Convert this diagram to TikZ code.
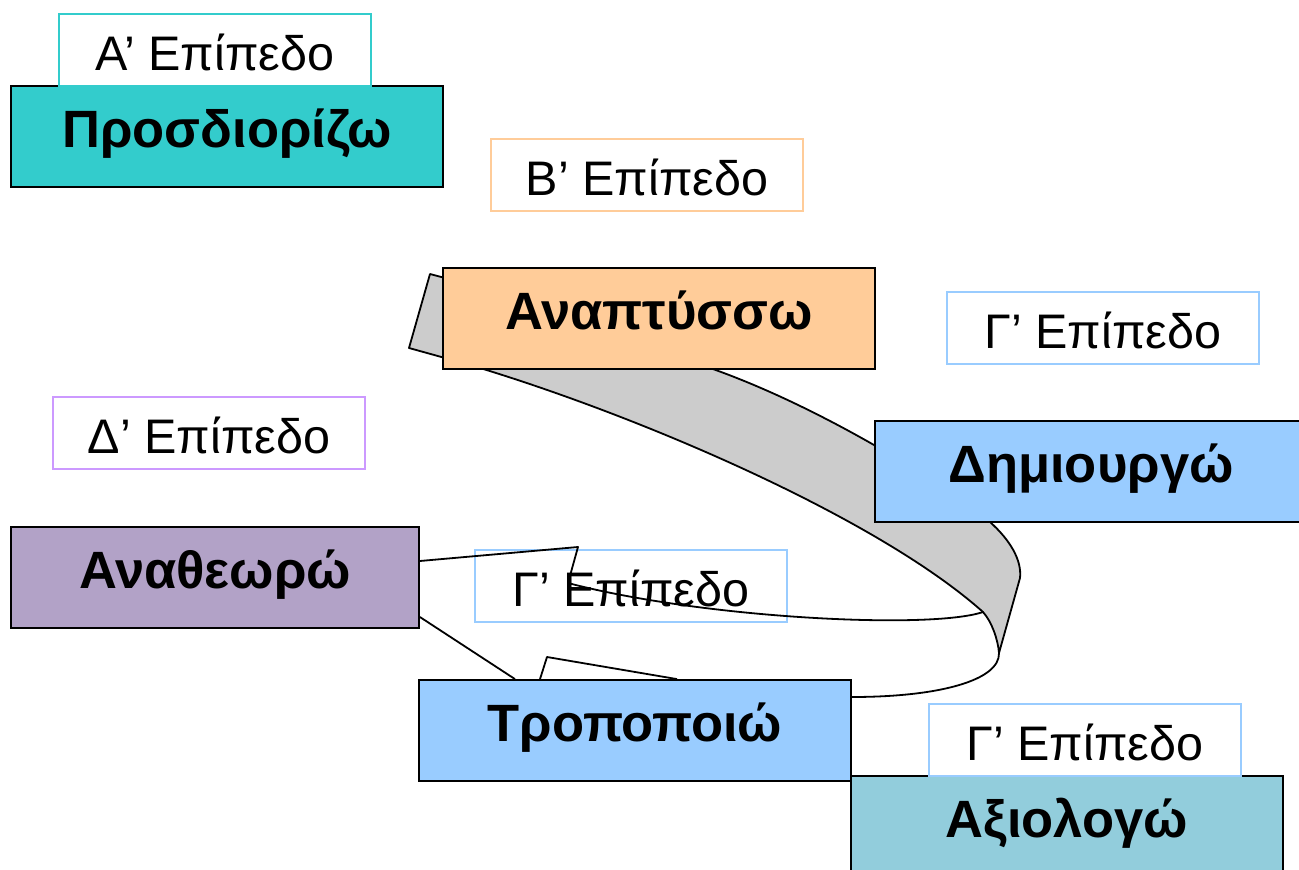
\documentclass[tikz,border=0pt]{standalone}
\usepackage{fontspec}
\setmainfont{Liberation Sans}
\definecolor{cTeal}{HTML}{33CCCC}
\definecolor{cPeach}{HTML}{FFCC99}
\definecolor{cSky}{HTML}{99CCFF}
\definecolor{cLilac}{HTML}{CC99FF}
\definecolor{cMauve}{HTML}{B2A2C7}
\definecolor{cAqua}{HTML}{92CDDC}
\definecolor{cRibbon}{HTML}{CCCCCC}
\tikzset{
  mainbox/.style={draw=black, line width=1.8pt, minimum width=432pt,
    inner sep=0pt, text height=61pt, text depth=40pt,
    font=\fontsize{52.5}{60}\selectfont\bfseries},
  levelbox/.style={draw=#1, fill=white, line width=1.6pt, minimum width=312pt,
    inner sep=0pt, text height=56pt, text depth=16pt,
    font=\fontsize{48.5}{56}\selectfont},
  ribbon/.style={draw=black, line width=1.8pt, line join=round},
}
\begin{document}
\begin{tikzpicture}[x=1pt,y=-1pt]
\useasboundingbox (0,0) rectangle (1299,870);

% grey ribbon running from the second step round to the third
\filldraw[ribbon, fill=cRibbon]
  (445,278) -- (430,274) -- (409,348) -- (445,358) -- (480,368)
  .. controls (650,420) and (880,520) .. (983,612)
  .. controls (992,622) and (998,640) .. (999,653)
  -- (1020,578)
  .. controls (1022,560) and (1010,540) .. (990,522)
  .. controls (960,495) and (830,410) .. (710,368) -- cycle;

% the steps
\node[mainbox, fill=cTeal]  (prosd) at (227,136.5)  {Προσδιορίζω};
\node[mainbox, fill=cPeach] (anapt) at (659,318.5)  {Αναπτύσσω};
\node[mainbox, fill=cSky]   (dimi)  at (1091,471.5) {Δημιουργώ};
\node[mainbox, fill=cMauve, minimum width=408pt] (anath) at (215,577.5) {Αναθεωρώ};
\node[mainbox, fill=cSky]   (tropo) at (635,730.5)  {Τροποποιώ};
\node[mainbox, fill=cAqua]  (axiol) at (1067,826.5) {Αξιολογώ};

% the level tags
\node[levelbox=cTeal]  (lvlA)  at (215,50)   {Α’ Επίπεδο};
\node[levelbox=cPeach] (lvlB)  at (647,175)  {Β’ Επίπεδο};
\node[levelbox=cSky]   (lvlC1) at (1103,328) {Γ’ Επίπεδο};
\node[levelbox=cLilac] (lvlD)  at (209,433)  {Δ’ Επίπεδο};
\node[levelbox=cSky]   (lvlC2) at (631,586)  {Γ’ Επίπεδο};
\node[levelbox=cSky]   (lvlC3) at (1085,740) {Γ’ Επίπεδο};

% back of the ribbon, returning to the fourth step
\draw[ribbon] (anath.east |- 0,561) -- (578,547) -- (568,583)
  .. controls (700,618) and (930,630) .. (983,612);
\draw[ribbon] (anath.east |- 0,617) -- (tropo.north -| 515,0);
\draw[ribbon] (tropo.north -| 540,0) -- (547,657) -- (tropo.north -| 677,0);
\draw[ribbon] (tropo.east |- 0,697)
  .. controls (940,697) and (1000,680) .. (999,653);
\end{tikzpicture}
\end{document}
